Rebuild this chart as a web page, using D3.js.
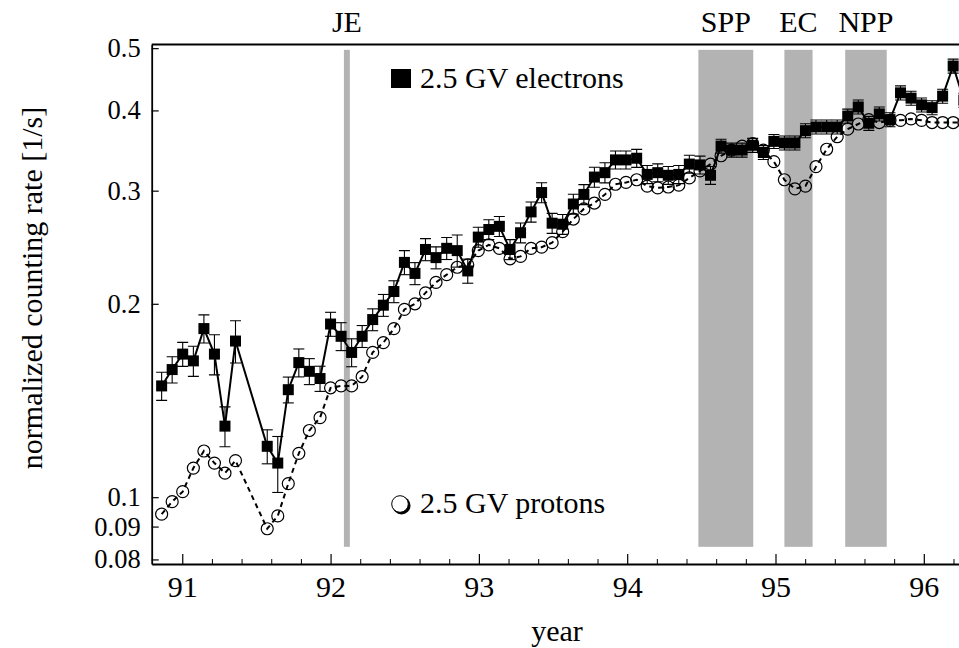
<!DOCTYPE html>
<html>
<head>
<meta charset="utf-8">
<script src="https://cdn.jsdelivr.net/npm/d3@7"></script>
<style>
  body { margin: 0; background: #fff; }
  text { font-family: "Liberation Serif", "Times New Roman", serif; }
</style>
</head>
<body>
<div id="chart"></div>
<script>
// time of each averaged point (decimal year, 19xx)
const years = [90.861, 90.932, 91.003, 91.075, 91.146, 91.217, 91.288, 91.359,
  91.573, 91.644, 91.715, 91.786, 91.857, 91.929, 92.000, 92.071, 92.142,
  92.213, 92.284, 92.356, 92.427, 92.498, 92.569, 92.640, 92.711, 92.783, 92.854,
  92.925, 92.996, 93.067, 93.138, 93.210, 93.281, 93.352, 93.423, 93.494, 93.565,
  93.637, 93.708, 93.779, 93.850, 93.921, 93.992, 94.064, 94.135, 94.206, 94.277,
  94.348, 94.419, 94.491, 94.562,
  94.633, 94.704, 94.775, 94.846, 94.918, 94.989, 95.060, 95.131, 95.202, 95.273,
  95.345, 95.416, 95.487, 95.558, 95.629, 95.700, 95.772, 95.843, 95.914, 95.985,
  96.056, 96.127, 96.198, 96.270];

// 2.5 GV electrons, counting rate [1/s]
const electrons = [0.149, 0.158, 0.167, 0.163, 0.183, 0.167, 0.129, 0.175,
  0.120, 0.113, 0.147, 0.162, 0.157, 0.153, 0.186, 0.178, 0.168,
  0.178, 0.189, 0.199, 0.209, 0.232, 0.223, 0.243, 0.236, 0.244, 0.242,
  0.225, 0.254, 0.261, 0.264, 0.243, 0.258, 0.278, 0.298, 0.267, 0.266,
  0.286, 0.296, 0.315, 0.320, 0.335, 0.335, 0.337, 0.318, 0.320, 0.317,
  0.318, 0.330, 0.329, 0.317,
  0.352, 0.347, 0.347, 0.353, 0.344, 0.358, 0.356, 0.356, 0.372, 0.377,
  0.377, 0.377, 0.392, 0.405, 0.382, 0.395, 0.387, 0.426, 0.418, 0.408,
  0.404, 0.421, 0.469, 0.415];

// electron errors (+/-)
const electronErr = [0.0075, 0.0074, 0.0072, 0.0088, 0.0092, 0.0120, 0.0092, 0.0132,
  0.0073, 0.0113, 0.0068, 0.0081, 0.0073, 0.0069, 0.0080, 0.0089, 0.0084,
  0.0070, 0.0074, 0.0078, 0.0082, 0.0100, 0.0088, 0.0096, 0.0093, 0.0096, 0.0139,
  0.0097, 0.0091, 0.0093, 0.0095, 0.0087, 0.0092, 0.0100, 0.0107, 0.0096, 0.0095,
  0.0102, 0.0106, 0.0113, 0.0115, 0.0108, 0.0108, 0.0109, 0.0103, 0.0103, 0.0102,
  0.0103, 0.0107, 0.0106, 0.0102,
  0.0088, 0.0087, 0.0087, 0.0089, 0.0086, 0.0090, 0.0089, 0.0089, 0.0093, 0.0095,
  0.0095, 0.0095, 0.0098, 0.0102, 0.0096, 0.0099, 0.0097, 0.0107, 0.0105, 0.0102,
  0.0101, 0.0106, 0.0118, 0.0104];

// 2.5 GV protons, counting rate [1/s]
const protons = [0.0941, 0.0984, 0.102, 0.111, 0.118, 0.113, 0.109, 0.114,
  0.0893, 0.0935, 0.105, 0.117, 0.127, 0.133, 0.148, 0.149, 0.149,
  0.154, 0.168, 0.174, 0.183, 0.196, 0.200, 0.208, 0.216, 0.222, 0.228,
  0.230, 0.242, 0.247, 0.244, 0.235, 0.237, 0.244, 0.245, 0.249, 0.259,
  0.271, 0.281, 0.287, 0.296, 0.307, 0.309, 0.312, 0.305, 0.303, 0.304,
  0.306, 0.314, 0.322, 0.330,
  0.340, 0.347, 0.352, 0.355, 0.347, 0.333, 0.312, 0.302, 0.305, 0.327,
  0.348, 0.364, 0.374, 0.381, 0.387, 0.383, 0.386, 0.386, 0.388, 0.386,
  0.383, 0.383, 0.383, 0.383];

// shaded periods
const bandNames = ["JE", "SPP", "EC", "NPP"];
const bandStart = [92.09, 94.48, 95.06, 95.47];
const bandEnd = [92.13, 94.85, 95.25, 95.75];
const bandLow = 0.0837, bandHigh = 0.497;

// axes
const yTicks = [0.08, 0.09, 0.1, 0.2, 0.3, 0.4, 0.5];
const xTicks = [91, 92, 93, 94, 95, 96];
const xMinor = [91.2, 91.4, 91.6, 91.8, 92.2, 92.4, 92.6, 92.8, 93.2, 93.4, 93.6, 93.8,
  94.2, 94.4, 94.6, 94.8, 95.2, 95.4, 95.6, 95.8, 96.2];

//Dimensions
const W = 959, H = 648;
const margin = {left: 151.7, top: 44.5, bottom: 84};
const plotRight = 968.3;   // frame runs past the right edge of the picture

const svg = d3.select('#chart').append('svg')
  .attr('width', W)
  .attr('height', H);

const x = d3.scaleLinear()
  .domain([90.794, 96.3])
  .range([margin.left, plotRight]);

const y = d3.scaleLog()
  .domain([0.0787, 0.5066])
  .range([H - margin.bottom, margin.top]);

const FS = 30;
const FS_Y = 26.5;   // y ticks sit close together near 0.1

svg.append('clipPath').attr('id', 'plotclip')
  .append('rect')
  .attr('x', margin.left).attr('y', margin.top)
  .attr('width', plotRight - margin.left)
  .attr('height', y.range()[0] - margin.top);

/*### shaded bands ###*/
const bands = bandNames.map((n, i) => ({name: n, a: bandStart[i], b: bandEnd[i]}));

svg.selectAll('.band')
  .data(bands)
  .join('rect')
  .attr('class', 'band')
  .attr('x', d => x(d.a))
  .attr('width', d => x(d.b) - x(d.a))
  .attr('y', y(bandHigh))
  .attr('height', y(bandLow) - y(bandHigh))
  .attr('fill', '#b3b3b3');

svg.selectAll('.bandLabel')
  .data(bands)
  .join('text')
  .attr('class', 'bandLabel')
  .text(d => d.name)
  .attr('x', d => x((d.a + d.b) / 2))
  .attr('y', 32)
  .attr('text-anchor', 'middle')
  .style('font-size', FS + 'px');

/*### axes ###*/
const gx = svg.append('g')
  .attr('transform', 'translate(0,' + y.range()[0] + ')')
  .call(d3.axisBottom(x).tickValues(xTicks).tickFormat(d3.format('d'))
    .tickSizeInner(-10).tickSizeOuter(0).tickPadding(12));

svg.append('g')
  .attr('transform', 'translate(0,' + y.range()[0] + ')')
  .call(d3.axisBottom(x).tickValues(xMinor).tickFormat('')
    .tickSizeInner(-5).tickSizeOuter(0))
  .call(g => g.select('.domain').remove());

const gy = svg.append('g')
  .attr('transform', 'translate(' + margin.left + ',0)')
  .call(d3.axisLeft(y).tickValues(yTicks).tickFormat(d => String(d))
    .tickSizeInner(-7).tickSizeOuter(0).tickPadding(11));

[[gx, FS], [gy, FS_Y]].forEach(([g, fs]) => {
  g.select('.domain').attr('stroke-width', 1.8);
  g.selectAll('.tick line').attr('stroke-width', 1.2);
  g.selectAll('text')
    .style('font-size', fs + 'px')
    .style('font-family', '"Liberation Serif", "Times New Roman", serif')
    .attr('fill', '#000');
});

// top frame line
svg.append('line')
  .attr('x1', margin.left).attr('x2', plotRight)
  .attr('y1', margin.top).attr('y2', margin.top)
  .attr('stroke', '#000').attr('stroke-width', 1.8);

//Axis titles
svg.append('text')
  .text('year')
  .attr('x', 557)
  .attr('y', 641)
  .attr('text-anchor', 'middle')
  .style('font-size', FS + 'px');

svg.append('text')
  .text('normalized counting rate [1/s]')
  .attr('transform', 'translate(42,288) rotate(-90)')
  .attr('text-anchor', 'middle')
  .style('font-size', FS + 'px');

/*### data ###*/
const plot = svg.append('g').attr('clip-path', 'url(#plotclip)');

const eData = years.map((t, i) => ({t: t, v: electrons[i], e: electronErr[i]}));
const pData = years.map((t, i) => ({t: t, v: protons[i]}));

const line = d3.line().x(d => x(d.t)).y(d => y(d.v));

// protons: dashed line with open circles
plot.append('path')
  .datum(pData)
  .attr('d', line)
  .attr('fill', 'none')
  .attr('stroke', '#000')
  .attr('stroke-width', 2)
  .attr('stroke-dasharray', '5,4');

plot.selectAll('.pt')
  .data(pData)
  .join('circle')
  .attr('class', 'pt')
  .attr('cx', d => x(d.t))
  .attr('cy', d => y(d.v))
  .attr('r', 6)
  .attr('fill', 'none')
  .attr('stroke', '#000')
  .attr('stroke-width', 1.2);

// electrons: solid line, error bars, filled squares
plot.append('path')
  .datum(eData)
  .attr('d', line)
  .attr('fill', 'none')
  .attr('stroke', '#000')
  .attr('stroke-width', 2);

const eb = plot.selectAll('.eb')
  .data(eData)
  .join('g')
  .attr('class', 'eb')
  .attr('stroke', '#000')
  .attr('stroke-width', 1.1);

eb.append('line')
  .attr('x1', d => x(d.t)).attr('x2', d => x(d.t))
  .attr('y1', d => y(d.v + d.e)).attr('y2', d => y(d.v - d.e));
eb.append('line')
  .attr('x1', d => x(d.t) - 5.5).attr('x2', d => x(d.t) + 5.5)
  .attr('y1', d => y(d.v + d.e)).attr('y2', d => y(d.v + d.e));
eb.append('line')
  .attr('x1', d => x(d.t) - 5.5).attr('x2', d => x(d.t) + 5.5)
  .attr('y1', d => y(d.v - d.e)).attr('y2', d => y(d.v - d.e));

plot.selectAll('.sq')
  .data(eData)
  .join('rect')
  .attr('class', 'sq')
  .attr('x', d => x(d.t) - 5.5)
  .attr('y', d => y(d.v) - 5.5)
  .attr('width', 11)
  .attr('height', 11)
  .attr('fill', '#000');

/*### legend ###*/
svg.append('rect')
  .attr('x', 391).attr('y', 69)
  .attr('width', 20).attr('height', 19)
  .attr('fill', '#000');
svg.append('text')
  .text('2.5 GV electrons')
  .attr('x', 420).attr('y', 88)
  .style('font-size', FS + 'px');

svg.append('circle')
  .attr('cx', 401.5).attr('cy', 505.5).attr('r', 9)
  .attr('fill', '#000');
svg.append('circle')
  .attr('cx', 400).attr('cy', 504).attr('r', 8.3)
  .attr('fill', '#fff').attr('stroke', '#000').attr('stroke-width', 1);
svg.append('text')
  .text('2.5 GV protons')
  .attr('x', 420).attr('y', 513)
  .style('font-size', FS + 'px');
</script>
</body>
</html>
